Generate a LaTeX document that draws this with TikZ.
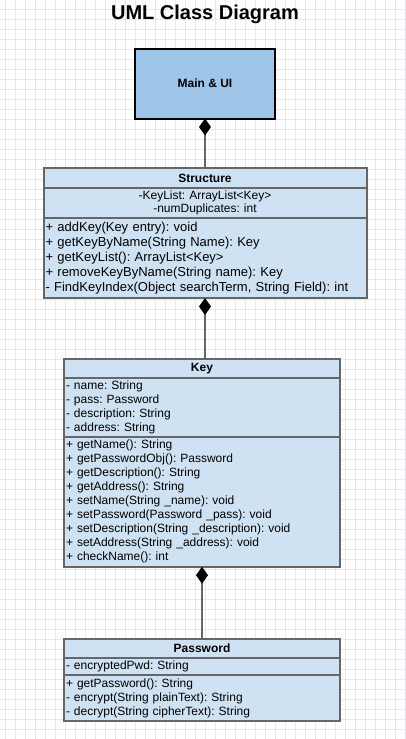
\documentclass[tikz,border=0pt]{standalone}
\usepackage{fontspec}
\setmainfont{Liberation Sans}
\usepackage{tikz}
\usetikzlibrary{arrows.meta,positioning,calc}
\definecolor{umlblue}{HTML}{CFE2F3}
\definecolor{mainblue}{HTML}{9FC5E8}
\definecolor{umlgray}{HTML}{666666}
\definecolor{gridcol}{HTML}{E8E6F6}
\frenchspacing

\begin{document}
\begin{tikzpicture}[x=1pt,y=-1pt,
      part/.style={draw=umlgray,fill=umlblue,line width=2pt,outer sep=0pt,
        inner xsep=2pt,inner ysep=1pt,font=\fontsize{12}{14}\selectfont},
      head/.style={part,font=\bfseries\fontsize{12}{14}\selectfont},
      body/.style={part,align=left},
      gridline/.style={gridcol,line width=0.8pt},
      compo/.style={draw=umlgray,line width=2pt,
        -{Diamond[length=17pt,width=12pt,color=black]}}]
      \useasboundingbox[fill=white] (0,0) rectangle (406,739);
      \foreach \gx in {5,15,...,405} \draw[gridline] (\gx,0) -- (\gx,739);
      \foreach \gy in {9,19,...,739} \draw[gridline] (0,\gy) -- (406,\gy);
      \node[font=\bfseries\fontsize{20}{24}\selectfont] (title) at (205,14) {UML Class Diagram};
      \node[draw=black,fill=mainblue,line width=2pt,outer sep=0pt,minimum width=140pt,
        minimum height=70pt,font=\bfseries\fontsize{12}{14}\selectfont] (main) at (205,83.5) {Main \& UI};
      \node[head,minimum width=323pt,minimum height=19.4pt,below=49.8pt of main] (str) {Structure};
      \node[part,align=center,text width=319pt,minimum height=30.6pt,below=0pt of str,
        font=\fontsize{12}{13.5}\selectfont] (strA)
        {-KeyList: ArrayList<Key>\\-numDuplicates: int};
      \node[body,text width=319pt,minimum height=79.7pt,below=0pt of strA,
        font=\fontsize{13}{15}\selectfont] (strM)
        {+ addKey(Key entry): void\\+ getKeyByName(String Name): Key\\+ getKeyList(): ArrayList<Key>\\
         + removeKeyByName(String name): Key\\- FindKeyIndex(Object searchTerm, String Field): int};
      \node[head,minimum width=276pt,minimum height=18.7pt,below=61pt of strM,xshift=-3pt] (key) {Key};
      \node[body,text width=272pt,minimum height=59pt,below=0pt of key] (keyA)
        {- name: String\\- pass: Password\\- description: String\\- address: String};
      \node[body,text width=272pt,minimum height=130pt,below=0pt of keyA] (keyM)
        {+ getName(): String\\+ getPasswordObj(): Password\\+ getDescription(): String\\
         + getAddress(): String\\+ setName(String \_name): void\\+ setPassword(Password \_pass): void\\
         + setDescription(String \_description): void\\+ setAddress(String \_address): void\\
         + checkName(): int};
      \node[head,minimum width=276pt,minimum height=18.7pt,below=72.3pt of keyM] (pwd) {Password};
      \node[body,text width=272pt,minimum height=17.3pt,below=0pt of pwd] (pwdA)
        {- encryptedPwd: String};
      \node[body,text width=272pt,minimum height=46pt,below=0pt of pwdA] (pwdM)
        {+ getPassword(): String\\- encrypt(String plainText): String\\- decrypt(String cipherText): String};
      \draw[compo] (str.north) -- (main.south);
      \draw[compo] (strM.south |- key.north) -- (strM.south);
      \draw[compo] (pwd.north) -- (keyM.south);
    \end{tikzpicture}
\end{document}
